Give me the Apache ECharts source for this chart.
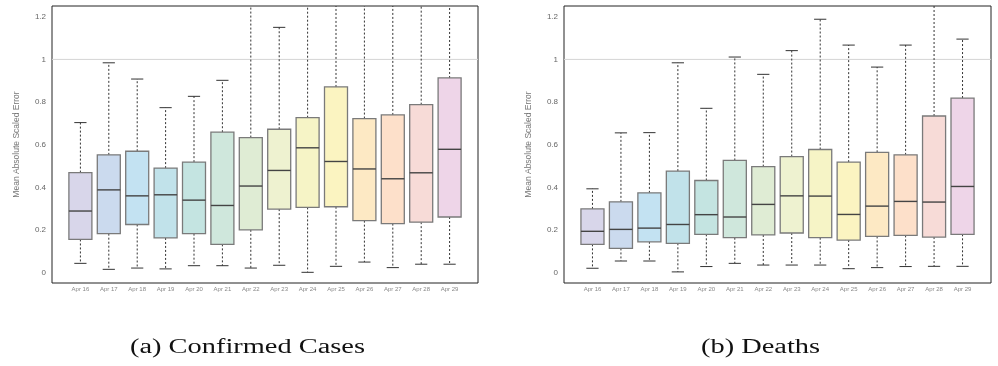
<!DOCTYPE html>
<html>
<head>
<meta charset="utf-8">
<script src="https://cdn.jsdelivr.net/npm/echarts@6/dist/echarts.min.js"></script>
<style>
  html, body { margin: 0; padding: 0; background: #fff; }
  #chart { width: 998px; height: 366px; }
</style>
</head>
<body>
<div id="chart"></div>
<script>
// categories (empty ends give the padding seen in the figure)
const days = ['', 'Apr 16', 'Apr 17', 'Apr 18', 'Apr 19', 'Apr 20', 'Apr 21', 'Apr 22',
  'Apr 23', 'Apr 24', 'Apr 25', 'Apr 26', 'Apr 27', 'Apr 28', 'Apr 29', '']
const yTicks = [0, 0.2, 0.4, 0.6, 0.8, 1, 1.2]
const refLine = [1, 1]

const boxColors = ['#d8d6ea', '#cbdaee', '#c3e2f2', '#c1e2ea', '#c4e4e1', '#cfe7dc', '#dfecd4',
  '#eef2d0', '#f6f4c6', '#fbf4c1', '#fde9c4', '#fde0ca', '#f7dbd7', '#eed5e8']

// (a) confirmed cases
const casesMin = [0.045, 0.017, 0.023, 0.019, 0.034, 0.034, 0.023, 0.036, 0.003, 0.031, 0.051, 0.025, 0.041, 0.041]
const casesQ1 = [0.157, 0.184, 0.227, 0.164, 0.184, 0.134, 0.202, 0.299, 0.307, 0.310, 0.245, 0.231, 0.238, 0.262]
const casesMed = [0.290, 0.389, 0.361, 0.366, 0.341, 0.316, 0.407, 0.480, 0.586, 0.522, 0.487, 0.441, 0.469, 0.579]
const casesQ3 = [0.470, 0.553, 0.570, 0.491, 0.519, 0.659, 0.634, 0.673, 0.727, 0.871, 0.723, 0.740, 0.788, 0.913]
const casesMax = [0.704, 0.984, 0.908, 0.774, 0.827, 0.902, 1.42, 1.150, 1.48, 1.62, 1.51, 1.47, 1.55, 1.68]

// (b) deaths
const deathsMin = [0.022, 0.056, 0.056, 0.005, 0.030, 0.045, 0.037, 0.037, 0.037, 0.020, 0.025, 0.030, 0.031, 0.031]
const deathsQ1 = [0.134, 0.115, 0.146, 0.139, 0.181, 0.165, 0.178, 0.187, 0.165, 0.154, 0.171, 0.176, 0.168, 0.181]
const deathsMed = [0.195, 0.204, 0.210, 0.227, 0.273, 0.262, 0.321, 0.361, 0.360, 0.274, 0.313, 0.335, 0.332, 0.405]
const deathsQ3 = [0.300, 0.333, 0.375, 0.477, 0.433, 0.527, 0.498, 0.545, 0.578, 0.519, 0.565, 0.553, 0.735, 0.819]
const deathsMax = [0.394, 0.656, 0.657, 0.984, 0.771, 1.011, 0.930, 1.041, 1.188, 1.067, 0.964, 1.067, 1.45, 1.095]

const buildData = (mins, q1s, meds, q3s, maxs) =>
  mins.map((v, i) => ({
    value: [i + 1, v, q1s[i], meds[i], q3s[i], maxs[i]],
    itemStyle: { color: boxColors[i] },
  }))

const renderBox = (params, api) => {
  const idx = api.value(0)
  const lo = api.coord([idx, api.value(1)])
  const q1 = api.coord([idx, api.value(2)])
  const md = api.coord([idx, api.value(3)])
  const q3 = api.coord([idx, api.value(4)])
  const hi = api.coord([idx, api.value(5)])
  const step = api.size([1, 0])[0]
  const bw = step * 0.81
  const cw = step * 0.43
  const x = lo[0]
  const top = params.coordSys.y
  const hiY = Math.max(hi[1], top)
  const fill = api.visual('color')
  const whisker = { stroke: '#333', lineWidth: 1, lineDash: [2, 2] }
  const cap = { stroke: '#333', lineWidth: 1 }
  const children = [
    { type: 'line', shape: { x1: x, y1: q3[1], x2: x, y2: hiY }, style: whisker },
    { type: 'line', shape: { x1: x, y1: q1[1], x2: x, y2: lo[1] }, style: whisker },
    { type: 'line', shape: { x1: x - cw / 2, y1: lo[1], x2: x + cw / 2, y2: lo[1] }, style: cap },
    {
      type: 'rect',
      shape: { x: x - bw / 2, y: q3[1], width: bw, height: q1[1] - q3[1] },
      style: { fill: fill, stroke: '#7a7a7a', lineWidth: 1.3 },
    },
    { type: 'line', shape: { x1: x - bw / 2, y1: md[1], x2: x + bw / 2, y2: md[1] }, style: { stroke: '#444', lineWidth: 1.4 } },
  ]
  if (hi[1] >= top) {
    children.push({ type: 'line', shape: { x1: x - cw / 2, y1: hi[1], x2: x + cw / 2, y2: hi[1] }, style: cap })
  }
  return { type: 'group', children: children }
}

const chart = echarts.init(document.getElementById('chart'), null, { renderer: 'canvas' })

const grids = [
  { left: 52, top: 6, width: 426, height: 277 },
  { left: 564, top: 6, width: 427, height: 277 },
]

const makeX = (gi) => ({
  type: 'category',
  gridIndex: gi,
  data: days,
  boundaryGap: false,
  axisLine: { show: false },
  axisTick: { show: false },
  splitLine: { show: false },
  axisLabel: { interval: 0, fontSize: 6, color: '#888', margin: 3, fontFamily: 'Liberation Sans' },
})

const makeY = (gi) => ({
  type: 'value',
  gridIndex: gi,
  min: -0.047,
  max: 1.25,
  name: 'Mean Absolute Scaled Error',
  nameLocation: 'middle',
  nameGap: 31,
  nameTextStyle: { fontSize: 8.5, color: '#777', fontFamily: 'Liberation Sans' },
  axisLine: { show: false },
  axisTick: { show: false },
  splitLine: { show: false },
  axisLabel: { customValues: yTicks, fontSize: 8, color: '#666', margin: 6, fontFamily: 'Liberation Sans' },
})

const makeSeries = (gi, data) => [
  {
    type: 'line',
    xAxisIndex: gi,
    yAxisIndex: gi,
    data: refLine.map((v, i) => [i === 0 ? 0 : days.length - 1, v]),
    symbol: 'none',
    silent: true,
    z: 1,
    lineStyle: { color: '#d4d4d4', width: 1 },
  },
  {
    type: 'custom',
    xAxisIndex: gi,
    yAxisIndex: gi,
    renderItem: renderBox,
    encode: { x: 0, y: [1, 2, 3, 4, 5] },
    clip: true,
    z: 2,
    data: data,
  },
]

const option = {
  backgroundColor: '#ffffff',
  animation: false,
  grid: grids.map((g) => Object.assign({ show: true, borderColor: '#222', borderWidth: 1, backgroundColor: 'transparent' }, g)),
  xAxis: [makeX(0), makeX(1)],
  yAxis: [makeY(0), makeY(1)],
  series: [
    ...makeSeries(0, buildData(casesMin, casesQ1, casesMed, casesQ3, casesMax)),
    ...makeSeries(1, buildData(deathsMin, deathsQ1, deathsMed, deathsQ3, deathsMax)),
  ],
  graphic: [
    {
      type: 'text', x: 130, y: 348, scaleX: 1.42,
      style: { text: '(a) Confirmed Cases', font: '20px "Liberation Serif"', fill: '#111', textVerticalAlign: 'middle' },
    },
    {
      type: 'text', x: 701, y: 348, scaleX: 1.42,
      style: { text: '(b) Deaths', font: '20px "Liberation Serif"', fill: '#111', textVerticalAlign: 'middle' },
    },
  ],
}

chart.setOption(option)
</script>
</body>
</html>
